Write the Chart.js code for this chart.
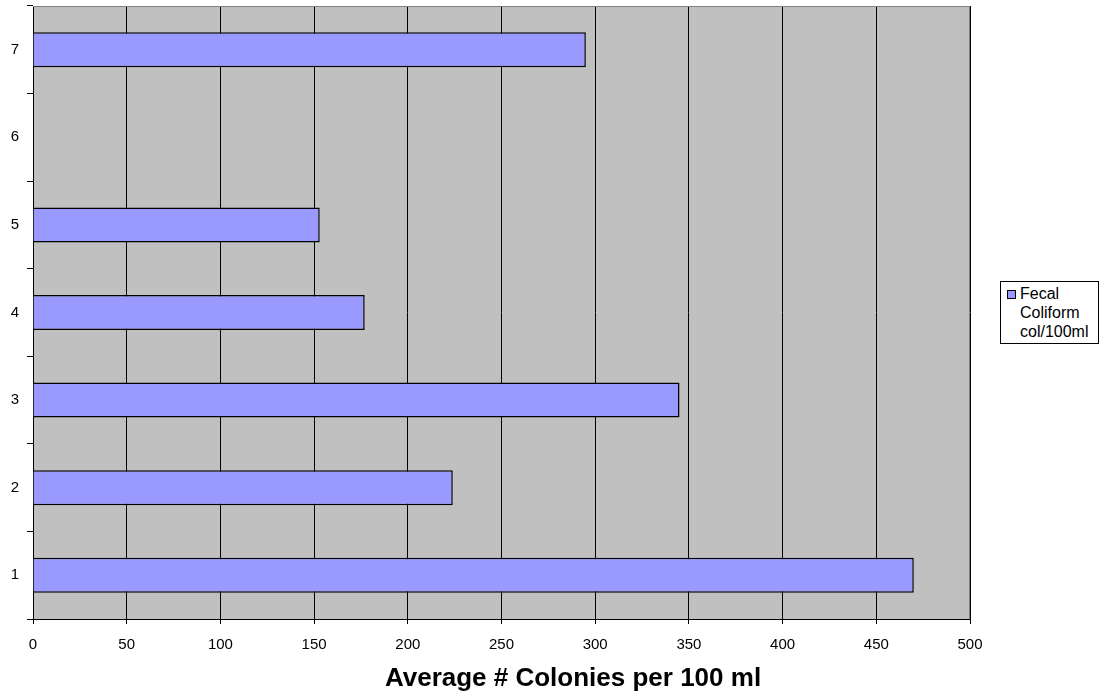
<!DOCTYPE html>
<html>
<head>
<meta charset="utf-8">
<script src="https://cdn.jsdelivr.net/npm/chart.js@4/dist/chart.umd.min.js"></script>
<style>
  html, body { margin: 0; padding: 0; background: #fff; }
  #wrap { position: relative; width: 1105px; height: 698px; }
  #legend {
    position: absolute; left: 1000px; top: 281px; width: 97px; height: 59px;
    border: 1px solid #000; background: #fff;
    font-family: "Liberation Sans", Arial, sans-serif; font-size: 16px; line-height: 19px; color: #000;
    padding-top: 2px; box-sizing: content-box;
  }
  #legend div { position: relative; padding-left: 19px; white-space: nowrap; }
  #legend .sw {
    position: absolute; left: 6px; top: 6px; width: 7px; height: 7px; background: #9999ff;
    border: 1px solid #000;
  }
</style>
</head>
<body>
<div id="wrap">
  <canvas id="myChart" width="1105" height="698"></canvas>
  <div id="legend"></div>
</div>
<script>
const categories = ["1", "2", "3", "4", "5", "6", "7"];
const coliform = [470, 224, 345, 177, 153, null, 295];
const seriesName = ["Fecal", "Coliform", "col/100ml"];
const xTicks = [0, 50, 100, 150, 200, 250, 300, 350, 400, 450, 500];
const xTitle = "Average # Colonies per 100 ml";

// legend drawn as html so the label can wrap like the original
const legendBox = document.getElementById("legend");
legendBox.innerHTML =
  '<div><span class="sw"></span>' + seriesName[0] + '</div>' +
  seriesName.slice(1).map(s => '<div>' + s + '</div>').join("");

// grey plot area with a frame, plus the axis title (off-centre like the original)
const plotBg = {
  id: "plotBg",
  beforeDraw(chart) {
    const { ctx, chartArea: a } = chart;
    ctx.save();
    ctx.fillStyle = "#c0c0c0";
    ctx.fillRect(a.left, a.top, a.right - a.left, a.bottom - a.top);
    ctx.restore();
  },
  afterDraw(chart) {
    const { ctx, chartArea: a } = chart;
    ctx.save();
    ctx.strokeStyle = "#808080";
    ctx.lineWidth = 1;
    ctx.beginPath();
    ctx.moveTo(a.left, a.top + 0.5);
    ctx.lineTo(a.right - 0.5, a.top + 0.5);
    ctx.lineTo(a.right - 0.5, a.bottom);
    ctx.stroke();

    ctx.fillStyle = "#000";
    ctx.font = "bold 26px 'Liberation Sans'";
    ctx.textAlign = "center";
    ctx.textBaseline = "alphabetic";
    ctx.fillText(xTitle, 573, 686);
    ctx.restore();
  }
};

const ctx = document.getElementById("myChart").getContext("2d");
new Chart(ctx, {
  type: "bar",
  data: {
    labels: categories,
    datasets: [{
      label: seriesName.join(" "),
      data: coliform,
      backgroundColor: "#9999ff",
      borderColor: "#000",
      borderWidth: 1.5,
      barPercentage: 0.4,
      categoryPercentage: 1.0,
    }],
  },
  options: {
    indexAxis: "y",
    responsive: false,
    animation: false,
    layout: { padding: { top: 6, right: 135, left: 0, bottom: 0 } },
    plugins: { legend: { display: false }, tooltip: { enabled: false } },
    scales: {
      x: {
        min: 0, max: 500,
        afterBuildTicks(scale) { scale.ticks = xTicks.map(v => ({ value: v })); },
        afterFit(scale) { scale.height = 79; },
        grid: { color: "#000", lineWidth: 1, drawTicks: true, tickLength: 5, tickColor: "#000" },
        border: { color: "#000", width: 1 },
        ticks: { color: "#000", font: { family: "Liberation Sans", size: 15 }, padding: 12, maxRotation: 0 },
      },
      y: {
        reverse: true,
        afterFit(scale) { scale.width = 33; scale.paddingTop = 0; scale.paddingBottom = 0; },
        grid: { drawOnChartArea: false, drawTicks: true, tickLength: 6, tickColor: "#000", offset: true },
        border: { color: "#000", width: 1 },
        ticks: { color: "#000", font: { family: "Liberation Sans", size: 15 }, padding: 8 },
      },
    },
  },
  plugins: [plotBg],
});
</script>
</body>
</html>
